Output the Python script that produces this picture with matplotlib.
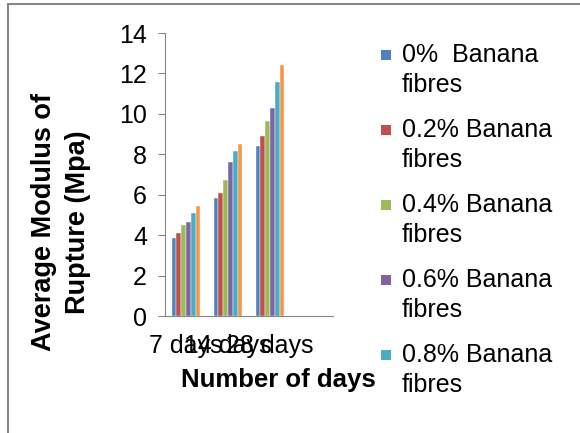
import numpy as np
import matplotlib
matplotlib.use("Agg")
from matplotlib import pyplot as plt
from matplotlib.patches import Rectangle

plt.rcParams['font.family'] = ['Liberation Sans', 'DejaVu Sans']

# data
categories = ['7 days', '14 days', '28 days', '']
series_names = ['0%  Banana\nfibres', '0.2% Banana\nfibres', '0.4% Banana\nfibres',
                '0.6% Banana\nfibres', '0.8% Banana\nfibres', '1% Banana\nfibres']
fib_0 = [3.88, 5.84, 8.39, 0]
fib_02 = [4.13, 6.09, 8.90, 0]
fib_04 = [4.51, 6.72, 9.66, 0]
fib_06 = [4.64, 7.63, 10.29, 0]
fib_08 = [5.09, 8.14, 11.57, 0]
fib_10 = [5.46, 8.50, 12.40, 0]
colors = ['#4F81BD', '#C0504D', '#9BBB59', '#8064A2', '#4BACC6', '#F79646']

W, H = 580, 433


def main():
    fig = plt.figure(figsize=(5.8, 4.33), dpi=100)
    ax = fig.add_axes([165 / W, 1 - 316 / H, 168 / W, 283 / H])

    values = [fib_0, fib_02, fib_04, fib_06, fib_08, fib_10]
    x = np.arange(len(categories))
    w = 0.115
    for i, (vals, c) in enumerate(zip(values, colors)):
        ax.bar(x + (i - 2.5) * w, vals, width=w, color=c, edgecolor='white', linewidth=0.3)

    ax.set_xlim(-0.5, 3.5)
    ax.set_ylim(0, 14)
    ax.set_yticks(range(0, 15, 2))
    ax.set_xticks(x)
    ax.set_xticklabels(categories, fontsize=18)
    ax.tick_params(axis='x', length=0, pad=13)
    ax.tick_params(axis='y', labelsize=18, length=5, color='#868686', pad=8)
    for s in ['top', 'right']:
        ax.spines[s].set_visible(False)
    for s in ['left', 'bottom']:
        ax.spines[s].set_color('#868686')

    fig.text(61 / W, 1 - 222 / H, 'Average Modulus of\nRupture (Mpa)', rotation=90,
             ha='center', va='center', multialignment='center',
             fontsize=19.5, fontweight='bold', linespacing=1.4)
    fig.text(278 / W, 1 - 380 / H, 'Number of days', ha='center', va='center',
             fontsize=18.5, fontweight='bold')

    # legend drawn by hand: marker beside the first line; the sixth entry
    # falls below the picture in the original, so only five are drawn
    for i in range(5):
        y0 = 55 + 75 * i
        fig.patches.append(Rectangle((381 / W, 1 - (y0 + 5) / H), 10 / W, 10 / H,
                                     transform=fig.transFigure, facecolor=colors[i],
                                     edgecolor='none'))
        for j, line in enumerate(series_names[i].split('\n')):
            fig.text(402 / W, 1 - (y0 + 30 * j) / H, line, ha='left', va='center',
                     fontsize=18)

    fig.patches.append(Rectangle((8 / W, -0.1), 1.2, 1.1 - 4 / H, transform=fig.transFigure,
                                 fill=False, edgecolor='#868686', linewidth=1.5))

    fig.savefig('out.png', dpi=100)


if __name__ == "__main__":
    main()
